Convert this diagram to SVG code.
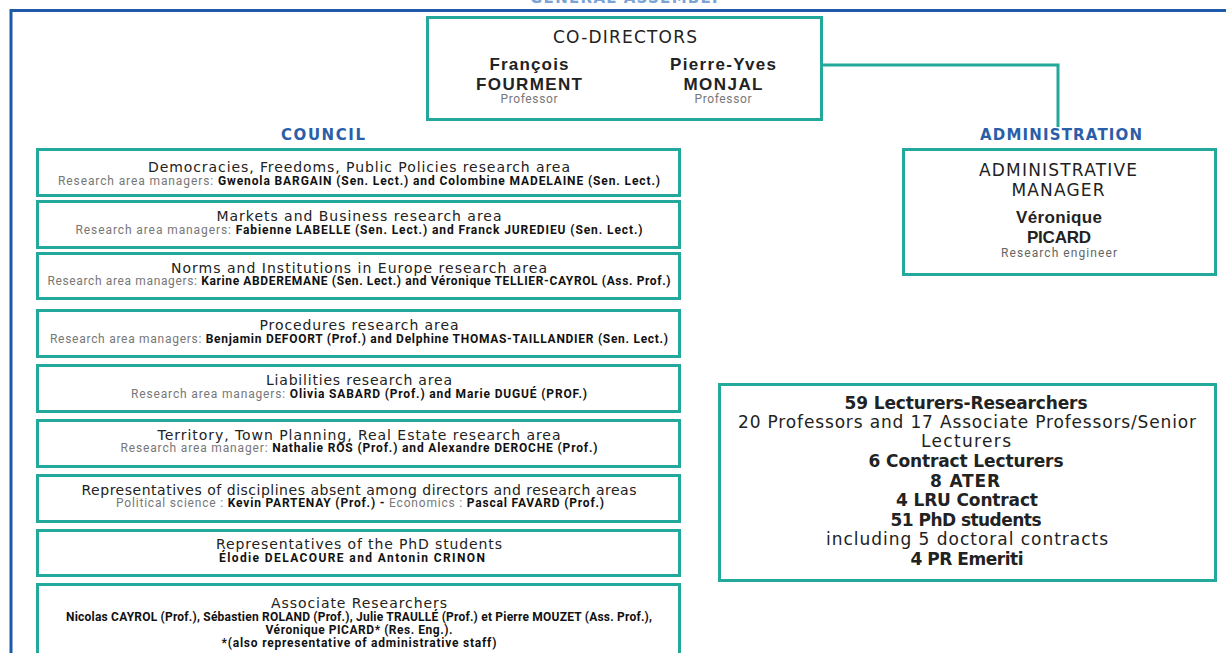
<svg xmlns="http://www.w3.org/2000/svg" width="1226" height="653" viewBox="0 0 1226 653">
<style>
.box{fill:#fff;stroke:#22a99b;stroke-width:3}
.hd{font-family:"DejaVu Sans",sans-serif;font-weight:bold;fill:#2a5ea8;text-anchor:middle;font-size:15px}
.t{font-family:"DejaVu Sans",sans-serif;fill:#222;text-anchor:middle;font-size:14px}
.s{font-family:Roboto,"Liberation Sans",sans-serif;font-size:12px;text-anchor:middle;fill:#111;font-weight:bold}
.g{fill:#777;font-weight:normal}
.big{font-family:"DejaVu Sans",sans-serif;fill:#222;text-anchor:middle;font-size:17px}
.b{font-weight:bold}
.nm{font-family:"Liberation Sans",Arial,sans-serif;font-weight:bold;fill:#222;text-anchor:middle;font-size:17px}
.pr{font-family:Roboto,"Liberation Sans",sans-serif;fill:#777;text-anchor:middle;font-size:12px}
</style>
<rect width="1226" height="653" fill="#fff"/>
<text x="625" y="2.5" class="hd" style="fill:#7aa3d6" textLength="190">GENERAL ASSEMBLY</text>
<rect x="11" y="10.5" width="1300" height="700" fill="none" stroke="#1f5aa8" stroke-width="3"/>
<g id="connectors">
<polyline points="822,65 1058,65 1058,127" fill="none" stroke="#22a99b" stroke-width="3"/>
</g>
<g id="codirectors">
<rect class="box" x="427.5" y="17.5" width="394" height="102"/>
<text x="625" y="43" class="big" textLength="144">CO-DIRECTORS</text>
<text x="529" y="70" class="nm" textLength="79">François</text>
<text x="529" y="90" class="nm" textLength="106">FOURMENT</text>
<text x="529" y="103" class="pr" textLength="57">Professor</text>
<text x="723" y="70" class="nm" textLength="106">Pierre-Yves</text>
<text x="723" y="90" class="nm" textLength="79">MONJAL</text>
<text x="723" y="103" class="pr" textLength="57">Professor</text>
</g>
<g id="council-label"><text x="323" y="140" class="hd" textLength="84">COUNCIL</text></g>
<g id="administration-label"><text x="1061" y="140" class="hd" textLength="162">ADMINISTRATION</text></g>
<g id="area1">
<rect class="box" x="37.5" y="149.5" width="642" height="46"/>
<text x="359" y="172" class="t" textLength="422">Democracies, Freedoms, Public Policies research area</text>
<text x="359" y="185" class="s" textLength="602"><tspan class="g">Research area managers:</tspan> Gwenola BARGAIN (Sen. Lect.) and Colombine MADELAINE (Sen. Lect.)</text>
</g>
<g id="area2">
<rect class="box" x="37.5" y="201.5" width="642" height="46"/>
<text x="359" y="221" class="t" textLength="285">Markets and Business research area</text>
<text x="359" y="234" class="s" textLength="567"><tspan class="g">Research area managers:</tspan> Fabienne LABELLE (Sen. Lect.) and Franck JUREDIEU (Sen. Lect.)</text>
</g>
<g id="area3">
<rect class="box" x="37.5" y="253.5" width="642" height="45"/>
<text x="359" y="273" class="t" textLength="376">Norms and Institutions in Europe research area</text>
<text x="359" y="285" class="s" textLength="623"><tspan class="g">Research area managers:</tspan> Karine ABDEREMANE (Sen. Lect.) and Véronique TELLIER-CAYROL (Ass. Prof.)</text>
</g>
<g id="area4">
<rect class="box" x="37.5" y="310.5" width="642" height="46"/>
<text x="359" y="330" class="t" textLength="199">Procedures research area</text>
<text x="359" y="343" class="s" textLength="618"><tspan class="g">Research area managers:</tspan> Benjamin DEFOORT (Prof.) and Delphine THOMAS-TAILLANDIER (Sen. Lect.)</text>
</g>
<g id="area5">
<rect class="box" x="37.5" y="365.5" width="642" height="46"/>
<text x="359" y="385" class="t" textLength="186">Liabilities research area</text>
<text x="359" y="398" class="s" textLength="456"><tspan class="g">Research area managers:</tspan> Olivia SABARD (Prof.) and Marie DUGUÉ (PROF.)</text>
</g>
<g id="area6">
<rect class="box" x="37.5" y="420.5" width="642" height="46"/>
<text x="359" y="440" class="t" textLength="403">Territory, Town Planning, Real Estate research area</text>
<text x="359" y="452" class="s" textLength="477"><tspan class="g">Research area manager:</tspan> Nathalie ROS (Prof.) and Alexandre DEROCHE (Prof.)</text>
</g>
<g id="disciplines">
<rect class="box" x="37.5" y="475.5" width="642" height="46"/>
<text x="359" y="495" class="t" textLength="555">Representatives of disciplines absent among directors and research areas</text>
<text x="360" y="507" class="s" textLength="488"><tspan class="g">Political science :</tspan> Kevin PARTENAY (Prof.) - <tspan class="g">Economics :</tspan>  Pascal FAVARD (Prof.)</text>
</g>
<g id="phd">
<rect class="box" x="37.5" y="530.5" width="642" height="45"/>
<text x="359" y="549" class="t" textLength="286">Representatives of the PhD students</text>
<text x="352" y="562" class="s" textLength="266">Élodie DELACOURE and Antonin CRINON</text>
</g>
<g id="associates">
<rect class="box" x="37.5" y="584.5" width="642" height="100"/>
<text x="359" y="608" class="t" textLength="176">Associate Researchers</text>
<text x="359" y="621" class="s" textLength="586">Nicolas CAYROL (Prof.), Sébastien ROLAND (Prof.), Julie TRAULLÉ (Prof.) et Pierre MOUZET (Ass. Prof.),</text>
<text x="359" y="634" class="s" textLength="187">Véronique PICARD* (Res. Eng.).</text>
<text x="359" y="647" class="s" textLength="275">*(also representative of administrative staff)</text>
</g>
<g id="admin-manager">
<rect class="box" x="903.5" y="149.5" width="312" height="125"/>
<text x="1058" y="176" class="big" textLength="158">ADMINISTRATIVE</text>
<text x="1058" y="196" class="big" textLength="93">MANAGER</text>
<text x="1059" y="223" class="nm" font-size="16" textLength="86">Véronique</text>
<text x="1059" y="243" class="nm" font-size="16" textLength="64">PICARD</text>
<text x="1059" y="257" class="pr" style="fill:#666" textLength="116">Research engineer</text>
</g>
<g id="staff">
<rect class="box" x="719.5" y="384.5" width="496" height="196"/>
<text x="966" y="409" class="big b" textLength="243">59 Lecturers-Researchers</text>
<text x="967" y="428" class="big" textLength="458">20 Professors and 17 Associate Professors/Senior</text>
<text x="966" y="447" class="big" textLength="90">Lecturers</text>
<text x="966" y="467" class="big b" textLength="195">6 Contract Lecturers</text>
<text x="965" y="487" class="big b" textLength="70">8 ATER</text>
<text x="967" y="506" class="big b" textLength="142">4 LRU Contract</text>
<text x="966" y="526" class="big b" textLength="151">51 PhD students</text>
<text x="967" y="545" class="big" textLength="282">including 5 doctoral contracts</text>
<text x="967" y="565" class="big b" textLength="113">4 PR Emeriti</text>
</g>
</svg>
